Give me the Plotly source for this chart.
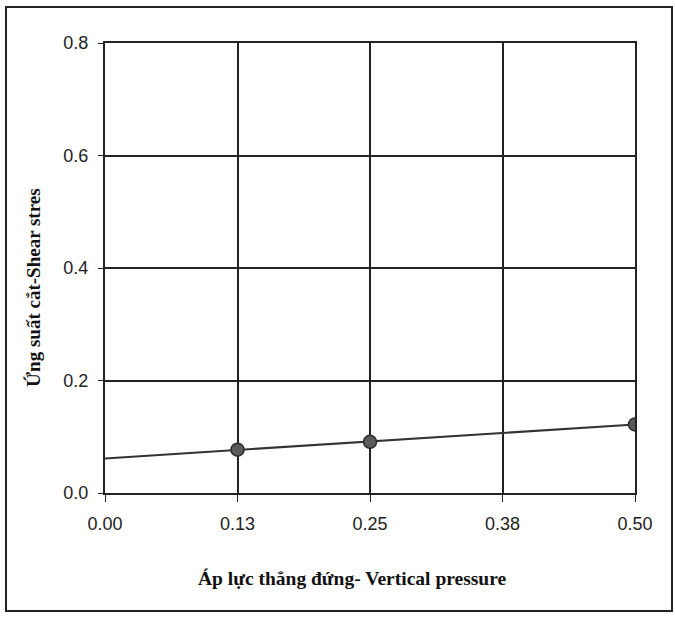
import numpy as np
import plotly.graph_objects as go

# Data
pressure = [0.125, 0.25, 0.5]
shear = [0.077, 0.091, 0.122]
x_tickvals = [0.0, 0.125, 0.25, 0.375, 0.5]
x_ticktext = ["0.00", "0.13", "0.25", "0.38", "0.50"]
y_tickvals = [0.0, 0.2, 0.4, 0.6, 0.8]
x_title = "Áp lực thẳng đứng- Vertical pressure"
y_title = "Ứng suất cắt-Shear stres"

# Linear trendline (least squares) drawn from 0 to 0.5
slope, intercept = np.polyfit(pressure, shear, 1)
trend_x = [0.0, 0.5]
trend_y = [intercept + slope * v for v in trend_x]

fig = go.Figure()
fig.add_trace(go.Scatter(x=trend_x, y=trend_y, mode="lines",
                         line=dict(color="#333333", width=2), hoverinfo="skip"))
fig.add_trace(go.Scatter(x=pressure, y=shear, mode="markers",
                         marker=dict(size=13, color="#5a5a5a",
                                     line=dict(color="#2a2a2a", width=1.5))))

axis_common = dict(showline=True, linecolor="#222222", linewidth=2, mirror=True,
                   showgrid=True, gridcolor="#222222", gridwidth=1.5,
                   zeroline=False, ticks="outside", tickcolor="#222222",
                   tickfont=dict(family="Liberation Sans, Arial", size=18, color="#222222"))

fig.update_layout(
    width=675, height=619,
    margin=dict(l=105, r=40, t=43, b=126),
    paper_bgcolor="white", plot_bgcolor="white",
    showlegend=False,
    xaxis=dict(range=[0, 0.5], tickvals=x_tickvals, ticktext=x_ticktext,
               ticklen=7, ticklabelstandoff=6, **axis_common),
    yaxis=dict(range=[0, 0.8], tickvals=y_tickvals, tickformat=".1f",
               ticklen=5, ticklabelstandoff=6, **axis_common),
    annotations=[
        dict(text="<b>" + x_title + "</b>", xref="paper", yref="paper", x=(352 - 105) / 530,
             y=1 - (578 - 43) / 450, showarrow=False, xanchor="center", yanchor="middle",
             font=dict(family="Liberation Serif, Times New Roman", size=19.5, color="#111111")),
        dict(text="<b>" + y_title + "</b>", xref="paper", yref="paper",
             x=(33 - 105) / 530, y=1 - (288 - 43) / 450, textangle=-90,
             showarrow=False, xanchor="center", yanchor="middle",
             font=dict(family="Liberation Serif, Times New Roman", size=19, color="#111111")),
    ],
    shapes=[
        dict(type="rect", xref="paper", yref="paper",
             x0=(6 - 105) / 530, x1=(672 - 105) / 530,
             y0=1 - (611 - 43) / 450, y1=1 - (7 - 43) / 450,
             line=dict(color="#222222", width=2), fillcolor="rgba(0,0,0,0)", layer="below"),
    ],
)

fig.write_html("out.html")
